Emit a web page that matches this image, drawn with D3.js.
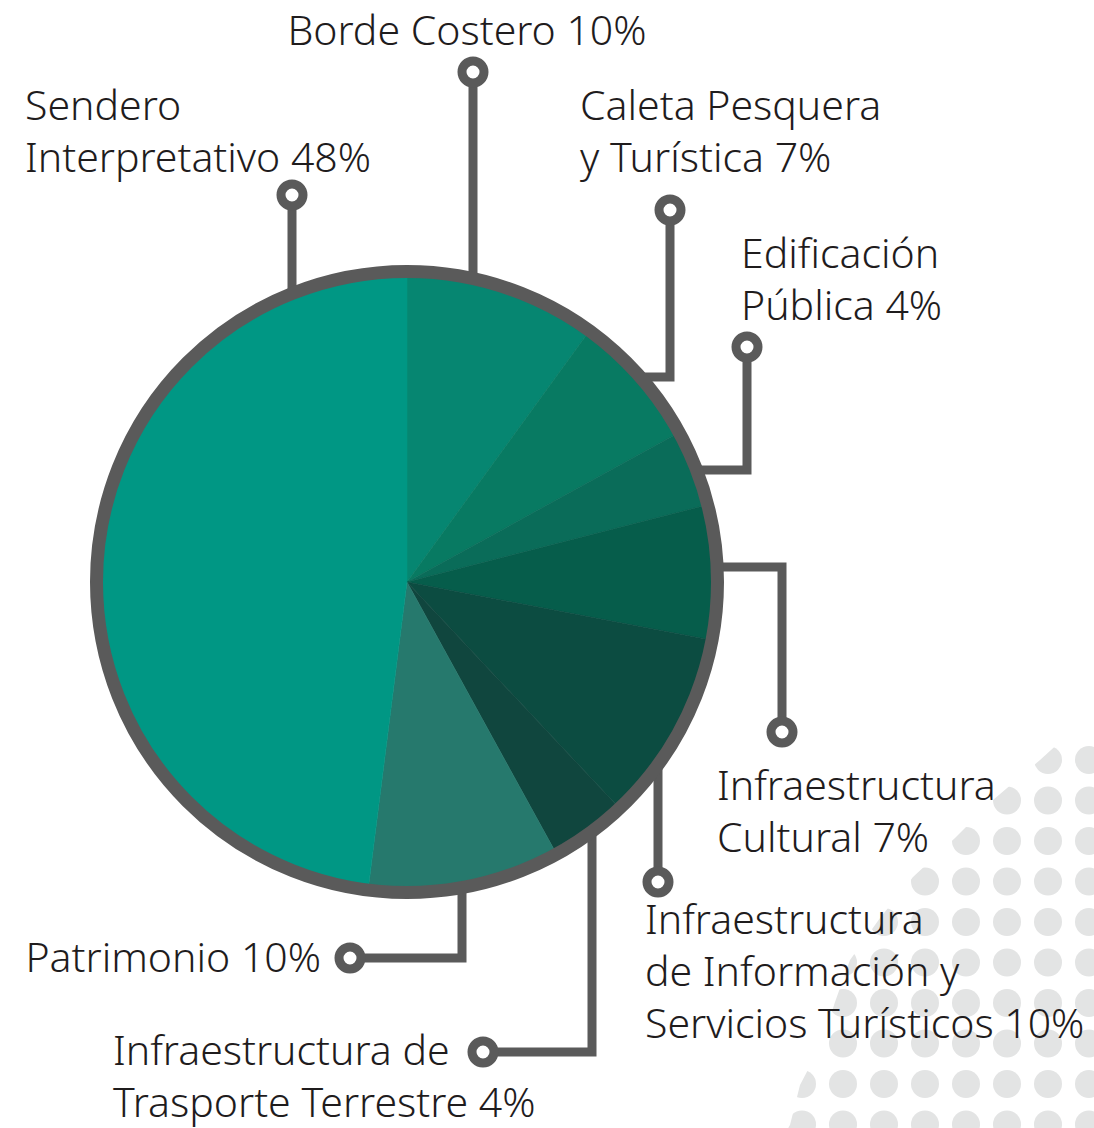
<!DOCTYPE html>
<html>
<head>
<meta charset="utf-8">
<script src="https://cdn.jsdelivr.net/npm/d3@7"></script>
<style>
  html, body { margin: 0; padding: 0; background: #ffffff; }
  svg { display: block; }
</style>
</head>
<body>
<script>
'use strict';
// data, clockwise from 12 o'clock
const categories = [
    "Borde Costero",
    "Caleta Pesquera y Turística",
    "Edificación Pública",
    "Infraestructura Cultural",
    "Infraestructura de Información y Servicios Turísticos",
    "Infraestructura de Trasporte Terrestre",
    "Patrimonio",
    "Sendero Interpretativo"
];
const shares = [10, 7, 4, 7, 10, 4, 10, 48];
const labelLines = [
    ["Borde Costero"],
    ["Caleta Pesquera", "y Turística"],
    ["Edificación", "Pública"],
    ["Infraestructura", "Cultural"],
    ["Infraestructura", "de Información y", "Servicios Turísticos"],
    ["Infraestructura de", "Trasporte Terrestre"],
    ["Patrimonio"],
    ["Sendero", "Interpretativo"]
];
const sliceColors = ["#068671", "#087a62", "#0a6c59", "#065d4b", "#0c4c41", "#10463e", "#26796d", "#009784"];

(function() {
    const width = 1094, height = 1128;
    const cx = 407, cy = 582;
    const ringR = 310.5, ringW = 13;
    const grey = "#5a5a5a";

    const svg = d3.select("body").append("svg")
        .attr("width", width)
        .attr("height", height);

    // decorative dot pattern in the bottom right corner
    const clip = [[1094, 712], [1062, 740], [1040, 760], [993, 800], [955, 838], [913, 877],
        [880, 918], [850, 960], [835, 1002], [822, 1043], [800, 1085], [790, 1125],
        [788, 1128], [1094, 1128]];
    svg.append("clipPath").attr("id", "dotclip")
        .append("polygon")
        .attr("points", clip.map(p => p.join(",")).join(" "));
    const dots = [];
    for (let k = 0; k < 10; k++) {
        for (let j = 0; j < 9; j++) dots.push([1089 - 41 * j, 760 + 40.5 * k]);
    }
    svg.append("g").attr("clip-path", "url(#dotclip)")
        .selectAll("circle")
        .data(dots)
        .enter()
        .append("circle")
            .attr("cx", d => d[0])
            .attr("cy", d => d[1])
            .attr("r", 14)
            .attr("fill", "#e3e4e4");

    // connector layout per slice: line points (first one hidden under the pie), dot at the end
    const layout = [
        { pts: [[473, 290], [473, 72]], lx: 467, ly: 45, anchor: "middle" },
        { pts: [[630, 377], [670, 377], [670, 210]], lx: 580, ly: 120, anchor: "start" },
        { pts: [[695, 470], [747, 470], [747, 347]], lx: 741, ly: 268, anchor: "start" },
        { pts: [[705, 567], [782, 567], [782, 732]], lx: 717, ly: 800, anchor: "start" },
        { pts: [[658, 745], [658, 882]], lx: 645, ly: 934, anchor: "start" },
        { pts: [[592, 830], [592, 1052], [483, 1052]], lx: 113, ly: 1065, anchor: "start" },
        { pts: [[462, 875], [462, 958], [350, 958]], lx: 321, ly: 972, anchor: "end" },
        { pts: [[292, 300], [292, 195]], lx: 25, ly: 120, anchor: "start" }
    ];

    const line = d3.line();
    const links = svg.append("g");
    links.selectAll("path")
        .data(layout)
        .enter()
        .append("path")
            .attr("d", d => line(d.pts))
            .attr("fill", "none")
            .attr("stroke", grey)
            .attr("stroke-width", 9)
            .attr("stroke-linejoin", "miter");
    links.selectAll("circle")
        .data(layout)
        .enter()
        .append("circle")
            .attr("cx", d => d.pts[d.pts.length - 1][0])
            .attr("cy", d => d.pts[d.pts.length - 1][1])
            .attr("r", 11)
            .attr("fill", "#ffffff")
            .attr("stroke", grey)
            .attr("stroke-width", 9);

    // pie
    const pie = d3.pie().sort(null).value(d => d);
    const arc = d3.arc().innerRadius(0).outerRadius(ringR);
    const slices = svg.append("g").attr("transform", "translate(" + cx + "," + cy + ")");
    slices.selectAll("path")
        .data(pie(shares))
        .enter()
        .append("path")
            .attr("d", arc)
            .attr("fill", (d, i) => sliceColors[i])
            .attr("stroke", (d, i) => sliceColors[i])
            .attr("stroke-width", 0.6);
    slices.append("circle")
        .attr("r", ringR)
        .attr("fill", "none")
        .attr("stroke", grey)
        .attr("stroke-width", ringW);

    // labels
    const labels = svg.append("g")
        .style("font-family", "'Noto Sans', 'Open Sans', sans-serif")
        .style("font-size", "41px")
        .style("font-weight", 300)
        .attr("fill", "#1f1c1d");
    layout.forEach((l, i) => {
        const lines = labelLines[i].slice();
        lines[lines.length - 1] += " " + shares[i] + "%";
        const t = labels.append("text")
            .attr("text-anchor", l.anchor);
        lines.forEach((s, n) => {
            t.append("tspan")
                .attr("x", l.lx)
                .attr("y", l.ly + n * 52)
                .text(s);
        });
    });
})();
</script>
</body>
</html>
